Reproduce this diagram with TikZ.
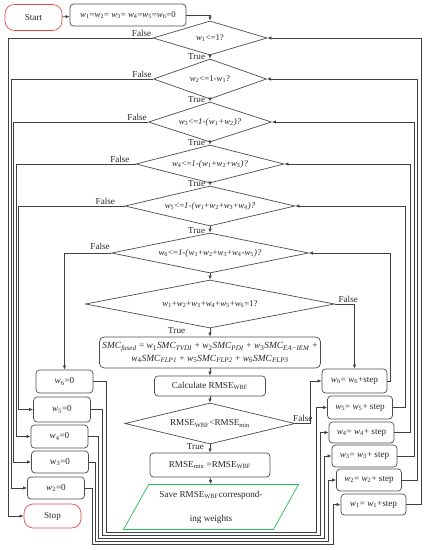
\documentclass[tikz,border=0pt]{standalone}
\usepackage{amsmath,amssymb}
\usepackage{fontspec}
\setmainfont{Liberation Serif}
\usepackage{tikz}
\usetikzlibrary{arrows.meta, shapes.geometric}
\definecolor{termred}{RGB}{232,72,72}
\definecolor{savegreen}{RGB}{40,190,90}
\newcommand{\wv}[1]{\textit{w}\textsubscript{#1}}
\newcommand{\smc}[1]{\textit{SMC}\textsubscript{\textit{#1}}}

\begin{document}
\begin{tikzpicture}[x=0.03cm, y=-0.03cm, font=\fontsize{7.8}{9.5}\selectfont,
  line/.style={draw=black!75, line width=0.6pt},
  arr/.style={line, -{Latex[length=3.5pt,width=3pt]}},
  box/.style={draw=black!70, line width=0.6pt, rounded corners=3pt, minimum width=1.71cm, minimum height=0.69cm, inner sep=1pt, text=black!85},
  stepbox/.style={box, minimum width=1.95cm, minimum height=0.66cm},
  term/.style={draw=termred, line width=0.6pt, rounded corners=8pt, minimum width=1.71cm, inner sep=1pt, text=black!85},
  cond/.style={diamond, draw=black!70, line width=0.6pt, aspect=4, inner sep=0pt, text=black!85, font=\fontsize{7.5}{9}\selectfont},
  lab/.style={inner sep=1pt, text=black!85}]
\useasboundingbox (0,0) rectangle (428,550);

\node[term, minimum height=0.78cm] (start) at (33.5,17.5) {Start};
\node[box, minimum width=3.48cm, minimum height=0.66cm, font=\fontsize{7.5}{9}\selectfont] (init) at (128,15) {\wv{1}=\wv{2}= \wv{3}= \wv{4}=\wv{5}=\wv{6}=0};
\node[cond, minimum width=3.42cm, minimum height=1.02cm] (d1) at (210,38) {\wv{1}<=1?};
\node[cond, minimum width=3.39cm, minimum height=1.2cm] (d2) at (210,79) {\wv{2}<=1-\wv{1}?};
\node[cond, minimum width=3.69cm, minimum height=1.2cm] (d3) at (210,122) {\wv{3}<=\textit{1-(}\wv{1}\textit{+}\wv{2}\textit{)?}};
\node[cond, minimum width=4.44cm, minimum height=1.14cm] (d4) at (210,164) {\wv{4}<=\textit{1-(}\wv{1}+\wv{2}+\wv{3}\textit{)?}};
\node[cond, minimum width=5.1cm, minimum height=1.2cm] (d5) at (210,206) {\wv{5}<=\textit{1-(}\wv{1}+\wv{2}+\wv{3}+\wv{4}\textit{)?}};
\node[cond, minimum width=5.91cm, minimum height=1.2cm] (d6) at (210,253) {\wv{6}<=\textit{1-(}\wv{1}+\wv{2}+\wv{3}+\wv{4}-\wv{5}\textit{)?}};
\node[cond, minimum width=7.47cm, minimum height=1.44cm] (d7) at (210,304) {\wv{1}+\wv{2}+\wv{3}+\wv{4}+\wv{5}+\wv{6}=1?};
\node[box, minimum width=6.63cm, minimum height=0.93cm, align=center, rounded corners=4pt, font=\fontsize{8}{10.5}\selectfont] (smc) at (210,352.5)
  {\smc{fused} = \wv{1}\smc{TVDI} + \wv{2}\smc{PDI} + \wv{3}\smc{EA−IEM} +\\
   \wv{4}\smc{FLP1} +\ \wv{5}\smc{FLP2} +\ \wv{6}\smc{FLP3}};
\node[box, minimum width=3.33cm, minimum height=0.6cm] (calc) at (210,386) {Calculate RMSE\textsubscript{WBF}};
\node[cond, minimum width=5.1cm, minimum height=1.23cm, font=\fontsize{7.8}{9.5}\selectfont] (d8) at (210,423.5) {RMSE\textsubscript{WBF}<RMSE\textsubscript{min}};
\node[box, minimum width=3.6cm, minimum height=0.72cm] (rmin) at (210,465) {RMSE\textsubscript{min} =RMSE\textsubscript{WBF}};
\node[trapezium, trapezium left angle=54, trapezium right angle=126, trapezium stretches body,
  draw=savegreen, line width=0.6pt, minimum width=5.25cm, minimum height=1.35cm, inner sep=1pt,
  align=center, text=black!85] (save) at (211,507) {Save RMSE\textsubscript{WBF}correspond-\\[11pt]ing weights};

\node[box] (w6z) at (64.5,381.5) {\wv{6}=0};
\node[box, minimum height=0.75cm] (w5z) at (62,409.5) {\wv{5}=0};
\node[box] (w4z) at (59.5,436.5) {\wv{4}=0};
\node[box, minimum height=0.66cm] (w3z) at (60,462) {w\textsubscript{3}=0};
\node[box, minimum height=0.66cm] (w2z) at (56,488) {\wv{2}=0};
\node[term, minimum height=0.72cm] (stop) at (52.5,516) {Stop};

\node[stepbox, minimum height=0.72cm] (s6) at (354.5,381) {\wv{6}= \wv{6}+step};
\node[stepbox, minimum height=0.69cm] (s5) at (360,407.5) {\wv{5}= \wv{5}+ step};
\node[stepbox, minimum height=0.63cm] (s4) at (361.5,432.5) {\wv{4}= \wv{4}+ step};
\node[stepbox] (s3) at (364.5,456) {\wv{3}= \wv{3}+ step};
\node[stepbox] (s2) at (369,480) {\wv{2}= \wv{2}+ step};
\node[stepbox, minimum height=0.63cm] (s1) at (373.5,504.5) {\wv{1}= \wv{1}+step};

\coordinate (lx1) at (8,0);
\coordinate (lx2) at (11,0);
\coordinate (lx3) at (13.5,0);
\coordinate (lx4) at (16,0);
\coordinate (lx5) at (18.5,0);
\coordinate (rx1) at (421,0);
\coordinate (rx2) at (417.5,0);
\coordinate (rx3) at (414,0);
\coordinate (rx4) at (410,0);
\coordinate (rx5) at (405,0);
\coordinate (rx6) at (390,0);
\coordinate (mx) at (310,0);
\coordinate (bl6) at (106,532);
\coordinate (br6) at (316,532);
\coordinate (bl5) at (102,535);
\coordinate (br5) at (320,535);
\coordinate (bl4) at (98,538);
\coordinate (br4) at (324,538);
\coordinate (bl3) at (95,541);
\coordinate (br3) at (328,541);
\coordinate (bl2) at (92,544);
\coordinate (br2) at (333,544);

\draw[arr] (start) -- (init);
\draw[arr] (init.east) -| (d1.north);
\foreach \a/\b in {d1/d2, d2/d3, d3/d4, d4/d5, d5/d6, d6/d7, d7/smc, smc/calc, calc/d8, d8/rmin, rmin/save}
  \draw[arr] (\a.south) -- (\b.north);

\draw[arr] (d1.west) -- (d1.west -| lx1) |- (stop.west);
\draw[arr] (d2.west) -- (d2.west -| lx2) |- (w2z.west);
\draw[arr] (d3.west) -- (d3.west -| lx3) |- (w3z.west);
\draw[arr] (d4.west) -- (d4.west -| lx4) |- (w4z.west);
\draw[arr] (d5.west) -- (d5.west -| lx5) |- (w5z.west);
\draw[arr] (d6.west) -| (w6z.north);

\foreach \k in {1,...,6}
  \draw[arr] (s\k.east) -- (s\k.east -| rx\k) |- (d\k.east);
\draw[arr] (d7.east) -| (s6.north);
\draw[arr] (d8.east) -- (d8.east -| mx) |- (s6.west);

\foreach \k/\m in {6/5, 5/4, 4/3, 3/2, 2/1}
  \draw[arr] (w\k z.east) -| (bl\k) -- (br\k) |- (s\m.west);

\node[lab, above left] (f1) at (d1.west) {False};
\node[lab, above left] (f2) at (d2.west) {False};
\node[lab, above left] (f3) at (d3.west) {False};
\node[lab, above left, xshift=-4pt] (f4) at (d4.west) {False};
\node[lab, above left, xshift=-7pt] (f5) at (d5.west) {False};
\node[lab, above left, yshift=2pt] (f6) at (d6.west) {False};
\node[lab, above right, xshift=2pt] (f7) at (d7.east) {False};
\node[lab, above right, xshift=-3pt, yshift=0.5pt] (f8) at (d8.east) {False};
\node[lab, left=3pt, yshift=2pt] (t1) at (d2.north) {True};
\node[lab, left=3pt, yshift=2pt] (t2) at (d3.north) {True};
\node[lab, left=3pt, yshift=2pt] (t3) at (d4.north) {True};
\node[lab, left=3pt, yshift=2pt] (t4) at (d5.north) {True};
\node[lab, left=3pt, yshift=2pt] (t5) at (d6.north) {True};
\node[lab, left=20pt, yshift=-2pt] (t7) at (d7.south) {True};
\node[lab, left=4pt, yshift=-2pt] (t8) at (d8.south) {True};
\end{tikzpicture}
\end{document}
